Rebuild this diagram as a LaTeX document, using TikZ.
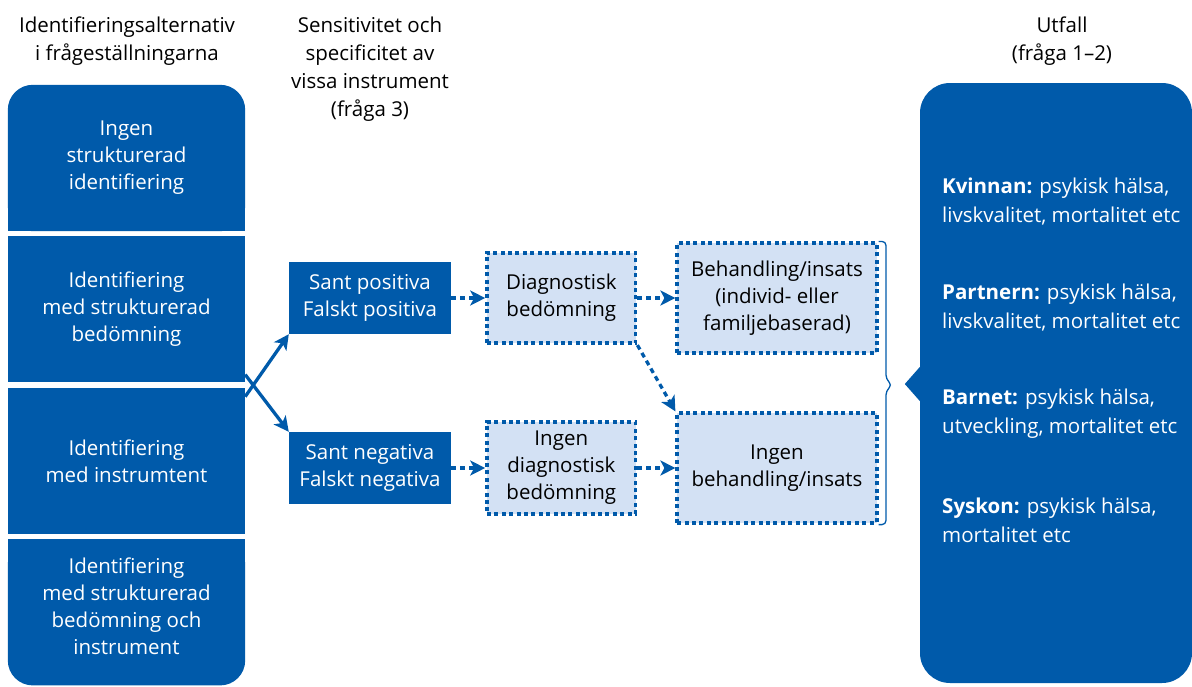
\documentclass[tikz,border=0pt]{standalone}
\usepackage{fontspec}
\setmainfont{Open Sans}
\usepackage{xcolor}
\usetikzlibrary{arrows.meta,positioning,backgrounds}
\definecolor{sbublue}{HTML}{005AAA}
\definecolor{sbulight}{HTML}{D3E1F4}

\begin{document}
\begin{tikzpicture}[x=1pt,y=-1pt,
font=\fontsize{20.5}{27}\selectfont,
idbox/.style={fill=sbublue,text=white,align=center,minimum width=237pt,minimum height=146pt,inner sep=0pt},
resbox/.style={fill=sbublue,text=white,align=center,minimum width=162pt,minimum height=72pt,inner sep=0pt},
dotbox/.style={draw=sbublue,fill=sbulight,line width=3.7pt,dash pattern=on 4pt off 3.4pt,align=center,inner sep=0pt},
head/.style={align=center,anchor=north,inner sep=0pt,font=\fontsize{20.5}{28}\selectfont},
outtext/.style={text=white,align=left,anchor=west,inner sep=0pt,font=\fontsize{20.5}{29}\selectfont},
arr/.style={-{Stealth[length=15pt,width=15pt,inset=4pt]},line width=3.3pt,draw=sbublue},
darr/.style={arr,dash pattern=on 5pt off 4pt}]
\useasboundingbox (0,0) rectangle (1192,686);
% headers
\node[head](hid) at (127,17){Identifieringsalternativ\\i frågeställningarna};
\node[head](hsens) at (370,17){Sensitivitet och\\specificitet av\\vissa instrument\\(fråga 3)};
\node[head](hutf) at (1062,17){Utfall\\(fråga 1--2)};
% left column
\node[idbox,fill=none](id1) at (126.5,158){Ingen\\strukturerad\\identifiering};
\node[idbox,below=5pt of id1](id2){Identifiering\\med strukturerad\\bedömning};
\node[idbox,below=5pt of id2](id3){Identifiering\\med instrumtent};
\node[idbox,fill=none,below=5pt of id3,text depth=12pt](id4){Identifiering\\med strukturerad\\bedömning och\\instrument};
\begin{scope}[on background layer]
\fill[sbublue,rounded corners=25pt](id1.south west) rectangle (id1.north east);
\fill[sbublue](id1.south west) rectangle (id1.east);
\fill[sbublue,rounded corners=25pt](id4.south west) rectangle (id4.north east);
\fill[sbublue](id4.west) rectangle (id4.north east);
\end{scope}
% middle
\node[resbox](pos) at (370,298){Sant positiva\\Falskt positiva};
\node[resbox](neg) at (370,468){Sant negativa\\Falskt negativa};
\node[dotbox,minimum width=148.5pt,minimum height=90.5pt,right=34pt of pos](diag){Diagnostisk\\bedömning};
\node[dotbox,minimum width=148.5pt,minimum height=91.5pt,right=34pt of neg](nodiag){Ingen\\diagnostisk\\bedömning};
\node[dotbox,minimum width=199.5pt,minimum height=109.5pt,right=38pt of diag](beh){Behandling/insats\\(individ- eller\\familjebaserad)};
\node[dotbox,minimum width=199.5pt,minimum height=109.5pt,right=38pt of nodiag](nobeh){Ingen\\behandling/insats};
\draw[arr]([yshift=-9pt]id3.north east)--(pos.south west);
\draw[arr]([yshift=8pt]id2.south east)--(neg.north west);
\draw[darr](pos)--(diag);
\draw[darr](diag)--(beh);
\draw[darr](diag.south east)--(nobeh.north west);
\draw[darr](neg)--(nodiag);
\draw[darr](nodiag)--(nobeh);
% brace
\coordinate(tip) at (892,385);
\draw[sbublue,line width=1.3pt,rounded corners=4pt](beh.north east)-|(886,379)--(tip)--(886,391)|-(nobeh.south east);
% outcomes
\node[fill=sbublue,rounded corners=30pt,minimum width=272pt,minimum height=600pt,inner sep=0pt](utfall) at (1056,383){};
\fill[sbublue]([yshift=16pt]utfall.west)--++(-15pt,-17pt)--++(15pt,-17pt)--cycle;
\node[outtext](kvinnan) at (942,202){\textbf{Kvinnan:} psykisk hälsa,\\livskvalitet, mortalitet etc};
\node[below=106pt of kvinnan.west,outtext](partnern){\textbf{Partnern:} psykisk hälsa,\\livskvalitet, mortalitet etc};
\node[below=106pt of partnern.west,outtext](barnet){\textbf{Barnet:} psykisk hälsa,\\utveckling, mortalitet etc};
\node[below=106pt of barnet.west,outtext](syskon){\textbf{Syskon:} psykisk hälsa,\\mortalitet etc};
\end{tikzpicture}
\end{document}
